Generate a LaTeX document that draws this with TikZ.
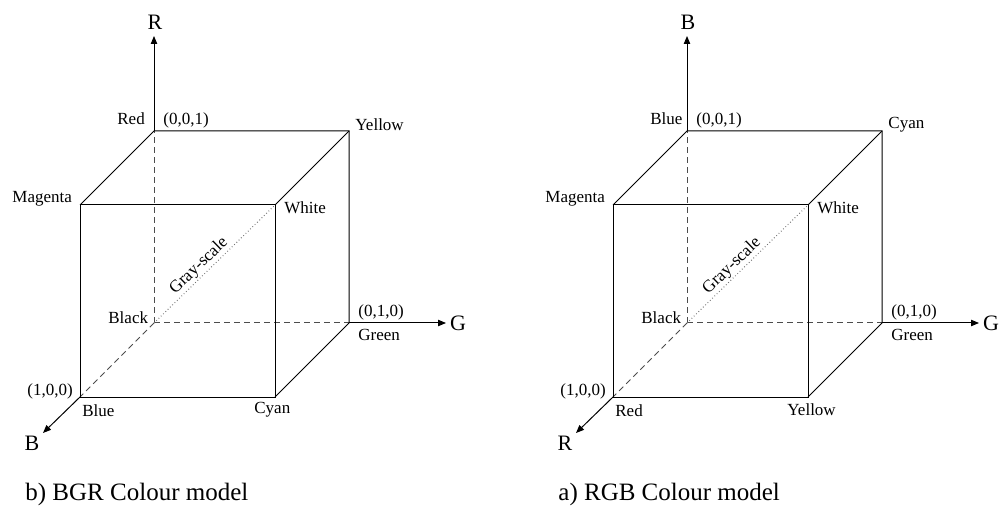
\documentclass[tikz,border=0pt]{standalone}
\usepackage{fontspec}
\setmainfont{Liberation Serif}
\usetikzlibrary{arrows.meta}

\tikzset{
  edge/.style={line width=0.5pt},
  hidden/.style={line width=0.5pt, black!70, dash pattern=on 3pt off 2pt},
  grayline/.style={line width=0.5pt, black!55, dash pattern=on 0.4pt off 1.2pt},
  axis/.style={line width=0.5pt, -{Triangle[length=4pt,width=3.2pt]}},
  lbl/.style={anchor=west, inner sep=0pt, font=\fontsize{8.5}{10}\selectfont},
  axlbl/.style={inner sep=0pt, font=\fontsize{11}{13}\selectfont},
  caption/.style={anchor=base west, inner sep=0pt, font=\fontsize{12.5}{15}\selectfont},
}

\begin{document}
\begin{tikzpicture}[x=0.5pt, y=-0.5pt]
\useasboundingbox (0,0) rectangle (1000,507);

% one cube per colour model, shifted to the right for the second one
\foreach \sx/\up/\upc/\topc/\front/\frontc/\botc/\cap in {
    0/R/Red/Yellow/B/Blue/Cyan/{b) BGR Colour model},
    533/B/Blue/Cyan/R/Red/Yellow/{a) RGB Colour model}}{
  \begin{scope}[shift={(\sx,0)}, name prefix=c\sx-]
    % corners
    \coordinate (org)     at (154,323);
    \coordinate (ptop)    at (154,131);
    \coordinate (ptopr)   at (349,131);
    \coordinate (pgrn)    at (349,323);
    \coordinate (pmag)    at (80,205);
    \coordinate (pwht)    at (275,205);
    \coordinate (pfront)  at (80,397);
    \coordinate (pfrontr) at (275,397);
    % axis ends
    \coordinate (upend)    at (154,36);
    \coordinate (rightend) at (446,323);
    \coordinate (downend)  at (43,433);

    % hidden edges and the grey diagonal
    \draw[hidden] (org) -- (ptop);
    \draw[hidden] (org) -- (pgrn);
    \draw[hidden] (org) -- (pfront);
    \draw[grayline] (org) -- (pwht);

    % visible edges
    \draw[edge] (pmag) -- (ptop) -- (ptopr) -- (pgrn) -- (pfrontr);
    \draw[edge] (ptopr) -- (pwht);
    \draw[edge] (pmag) -- (pwht) -- (pfrontr) -- (pfront) -- cycle;

    % axes
    \draw[axis] (ptop) -- (upend);
    \draw[axis] (pgrn) -- (rightend);
    \draw[axis] (pfront) -- (downend);
    \node[axlbl] (uplbl)    at (155,22)  {\up};
    \node[axlbl] (rightlbl) at (458,323) {G};
    \node[axlbl] (downlbl)  at (32,443)  {\front};

    % corner labels
    \node[lbl] (ltop)    at (117,119) {\upc};
    \node[lbl] (lzzo)    at (163,120) {(0,0,1)};
    \node[lbl] (ltopr)   at (355,125) {\topc};
    \node[lbl] (lmag)    at (12,199)  {Magenta};
    \node[lbl] (lwht)    at (284,208) {White};
    \node[lbl] (lblk)    at (108,318) {Black};
    \node[lbl] (lzoz)    at (358,312) {(0,1,0)};
    \node[lbl] (lgrn)    at (358,335) {Green};
    \node[lbl] (lozz)    at (27,391)  {(1,0,0)};
    \node[lbl] (lfront)  at (82,411)  {\frontc};
    \node[lbl] (lfrontr) at (254,410) {\botc};
    \node[lbl, anchor=center, rotate=44] (lgray) at (199,266) {Gray-scale};

    \node[caption] (cap) at (25,500) {\cap};
  \end{scope}
}
\end{tikzpicture}
\end{document}
